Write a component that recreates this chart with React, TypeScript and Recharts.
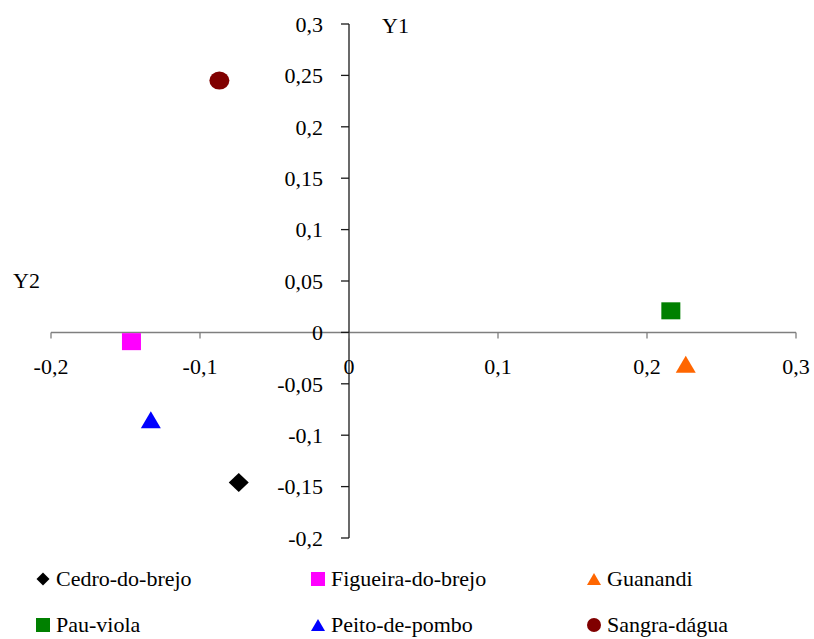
import React from "react";
import { ScatterChart, Scatter, XAxis, YAxis, ReferenceLine, ReferenceDot } from "recharts";

const cedro = [{ x: -0.074, y: -0.146 }];
const figueira = [{ x: -0.146, y: -0.009 }];
const guanandi = [{ x: 0.226, y: -0.031 }];
const pauViola = [{ x: 0.216, y: 0.021 }];
const peito = [{ x: -0.133, y: -0.085 }];
const sangra = [{ x: -0.087, y: 0.245 }];

const xTicks = [-0.2, -0.1, 0, 0.1, 0.2, 0.3];
const yTicks = [0.3, 0.25, 0.2, 0.15, 0.1, 0.05, 0, -0.05, -0.1, -0.15, -0.2];

const FONT = "Liberation Serif, DejaVu Serif, Times New Roman, serif";
const fmt = (v: number) => String(v).replace(".", ",");

type Kind = "diamond" | "square" | "triangle" | "circle";

function marker(kind: Kind, cx: number, cy: number, w: number, h: number, fill: string) {
  if (kind === "diamond")
    return <polygon points={`${cx},${cy - h / 2} ${cx + w / 2},${cy} ${cx},${cy + h / 2} ${cx - w / 2},${cy}`} fill={fill} />;
  if (kind === "square") return <rect x={cx - w / 2} y={cy - h / 2} width={w} height={h} fill={fill} />;
  if (kind === "triangle")
    return <polygon points={`${cx},${cy - h / 2} ${cx + w / 2},${cy + h / 2} ${cx - w / 2},${cy + h / 2}`} fill={fill} />;
  return <ellipse cx={cx} cy={cy} rx={w / 2} ry={h / 2} fill={fill} />;
}

const series: { name: string; data: { x: number; y: number }[]; kind: Kind; color: string }[] = [
  { name: "Cedro-do-brejo", data: cedro, kind: "diamond", color: "#000000" },
  { name: "Figueira-do-brejo", data: figueira, kind: "square", color: "#ff00ff" },
  { name: "Guanandi", data: guanandi, kind: "triangle", color: "#ff6600" },
  { name: "Pau-viola", data: pauViola, kind: "square", color: "#008000" },
  { name: "Peito-de-pombo", data: peito, kind: "triangle", color: "#0000ff" },
  { name: "Sangra-dágua", data: sangra, kind: "circle", color: "#800000" },
];

const bigSize: Record<Kind, [number, number]> = { diamond: [20, 19], square: [19, 17], triangle: [20, 17], circle: [20, 18] };
const smallSize: Record<Kind, [number, number]> = { diamond: [13, 13], square: [14, 14], triangle: [14, 12], circle: [14, 14] };

const textStyle = { fontFamily: FONT, fontSize: 22, fill: "#000" };

function LegendGrid() {
  return (
    <div style={{ position: "absolute", left: 0, top: 563, width: 814, display: "grid", gridTemplateColumns: "275px 276px 250px", rowGap: 14, paddingLeft: 34, boxSizing: "border-box", fontFamily: FONT, fontSize: 22 }}>
      {series.map((s) => (
        <div key={s.name} style={{ display: "flex", alignItems: "center", height: 32 }}>
          <svg width={18} height={18} style={{ marginRight: 4 }}>
            {marker(s.kind, 9, 9, smallSize[s.kind][0], smallSize[s.kind][1], s.color)}
          </svg>
          <span>{s.name}</span>
        </div>
      ))}
    </div>
  );
}

export default function App() {
  return (
    <div style={{ position: "relative", width: 814, height: 639, background: "#fff" }}>
      <style>{`body{margin:0}`}</style>
      <ScatterChart width={814} height={639} margin={{ top: 24, right: 18, bottom: 101, left: 51 }}>
        <XAxis type="number" dataKey="x" domain={[-0.2, 0.3]} hide />
        <YAxis type="number" dataKey="y" domain={[-0.2, 0.3]} hide />
        <ReferenceLine y={0} stroke="#7f7f7f" strokeWidth={1.5} />
        <ReferenceLine x={0} stroke="#1a1a1a" strokeWidth={1.3} />
        {xTicks.map((t) => (
          <ReferenceDot
            key={`x${t}`}
            x={t}
            y={0}
            r={0}
            shape={(p: any) => (
              <g>
                <line x1={p.cx} y1={p.cy} x2={p.cx} y2={p.cy + 6} stroke="#7f7f7f" strokeWidth={1.3} />
                <text x={p.cx} y={p.cy + 42} textAnchor="middle" style={textStyle}>{fmt(t)}</text>
              </g>
            )}
          />
        ))}
        {yTicks.map((t) => (
          <ReferenceDot
            key={`y${t}`}
            x={0}
            y={t}
            r={0}
            shape={(p: any) => (
              <g>
                <line x1={p.cx - 8} y1={p.cy} x2={p.cx} y2={p.cy} stroke="#1a1a1a" strokeWidth={1.3} />
                <text x={p.cx - 26} y={p.cy} dy="0.35em" textAnchor="end" style={textStyle}>{fmt(t)}</text>
              </g>
            )}
          />
        ))}
        <ReferenceDot x={0} y={0.3} r={0} shape={(p: any) => <text x={p.cx + 33} y={p.cy + 9} style={textStyle}>Y1</text>} />
        <ReferenceDot x={-0.2} y={0} r={0} shape={(p: any) => <text x={p.cx - 38} y={p.cy - 44} style={textStyle}>Y2</text>} />
        {series.map((s) => (
          <Scatter
            key={s.name}
            name={s.name}
            data={s.data}
            fill={s.color}
            isAnimationActive={false}
            shape={(p: any) => marker(s.kind, p.cx, p.cy, bigSize[s.kind][0], bigSize[s.kind][1], s.color)}
          />
        ))}
      </ScatterChart>
      <LegendGrid />
    </div>
  );
}
